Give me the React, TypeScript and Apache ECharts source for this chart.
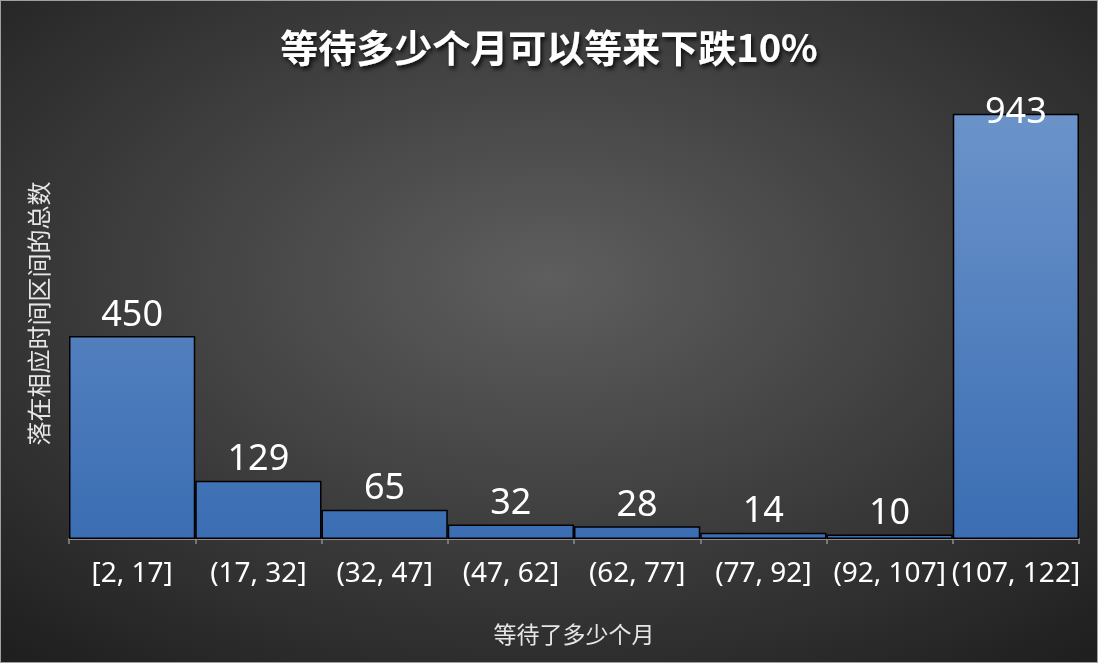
import React, { useEffect, useRef } from "react";
import * as echarts from "echarts";

const categories = ["[2, 17]", "(17, 32]", "(32, 47]", "(47, 62]", "(62, 77]", "(77, 92]", "(92, 107]", "(107, 122]"];
const counts = [450, 129, 65, 32, 28, 14, 10, 943];
const titleText = "等待多少个月可以等来下跌10%";
const xName = "等待了多少个月";
const yName = "落在相应时间区间的总数";

export default function App() {
  const ref = useRef<HTMLDivElement>(null);
  useEffect(() => {
    if (!ref.current) return;
    const chart = echarts.init(ref.current, null, { renderer: "svg" });
    const fontCJK = "'Noto Sans CJK SC', 'Noto Sans', sans-serif";
    chart.setOption({
      animation: false,
      backgroundColor: {
        type: "radial",
        x: 0.5,
        y: 0.42,
        r: 0.75,
        colorStops: [
          { offset: 0, color: "#5e5e5e" },
          { offset: 1, color: "#1f1f1f" },
        ],
      },
      title: {
        text: titleText,
        left: "center",
        top: 20,
        textStyle: {
          color: "#ffffff",
          fontFamily: fontCJK,
          fontWeight: "bold",
          fontSize: 38,
          textShadowColor: "rgba(0,0,0,0.8)",
          textShadowBlur: 4,
          textShadowOffsetX: 2,
          textShadowOffsetY: 3,
        },
      },
      grid: { left: 68, right: 18, top: 87, bottom: 123 },
      xAxis: {
        type: "category",
        data: categories,
        name: xName,
        nameLocation: "middle",
        nameGap: 82,
        nameTextStyle: { color: "#e6e6e6", fontSize: 23, fontFamily: fontCJK },
        axisLine: { lineStyle: { color: "#8c8c8c", width: 2 } },
        axisTick: { show: true, length: 5, lineStyle: { color: "#8c8c8c", width: 1.5 } },
        axisLabel: { color: "#ffffff", fontSize: 28, margin: 18, fontFamily: "'Noto Sans', sans-serif", interval: 0 },
      },
      yAxis: {
        type: "value",
        min: 0,
        max: 1000,
        name: yName,
        nameLocation: "middle",
        nameGap: 20,
        nameTextStyle: { color: "#e6e6e6", fontSize: 24, fontFamily: fontCJK },
        axisLine: { show: false },
        axisTick: { show: false },
        axisLabel: { show: false },
        splitLine: { show: false },
      },
      series: [
        {
          type: "bar",
          barCategoryGap: "0%",
          data: counts.map((v, i) =>
            i === counts.length - 1
              ? { value: v, label: { offset: [0, 20] } }
              : v
          ),
          itemStyle: {
            color: {
              type: "linear",
              global: true,
              x: 0,
              y: 113,
              x2: 0,
              y2: 540,
              colorStops: [
                { offset: 0, color: "#6b93ca" },
                { offset: 1, color: "#3a6db3" },
              ],
            },
            borderColor: "#000000",
            borderWidth: 1.5,
          },
          label: {
            show: true,
            position: "top",
            distance: 6,
            color: "#ffffff",
            fontSize: 36,
            fontFamily: "'Noto Sans', sans-serif",
          },
        },
      ],
    });
    return () => chart.dispose();
  }, []);
  return (
    <div
      ref={ref}
      style={{
        position: "fixed",
        left: 0,
        top: 0,
        width: 1098,
        height: 663,
        boxSizing: "border-box",
        border: "1px solid #a0a0a0",
      }}
    />
  );
}
